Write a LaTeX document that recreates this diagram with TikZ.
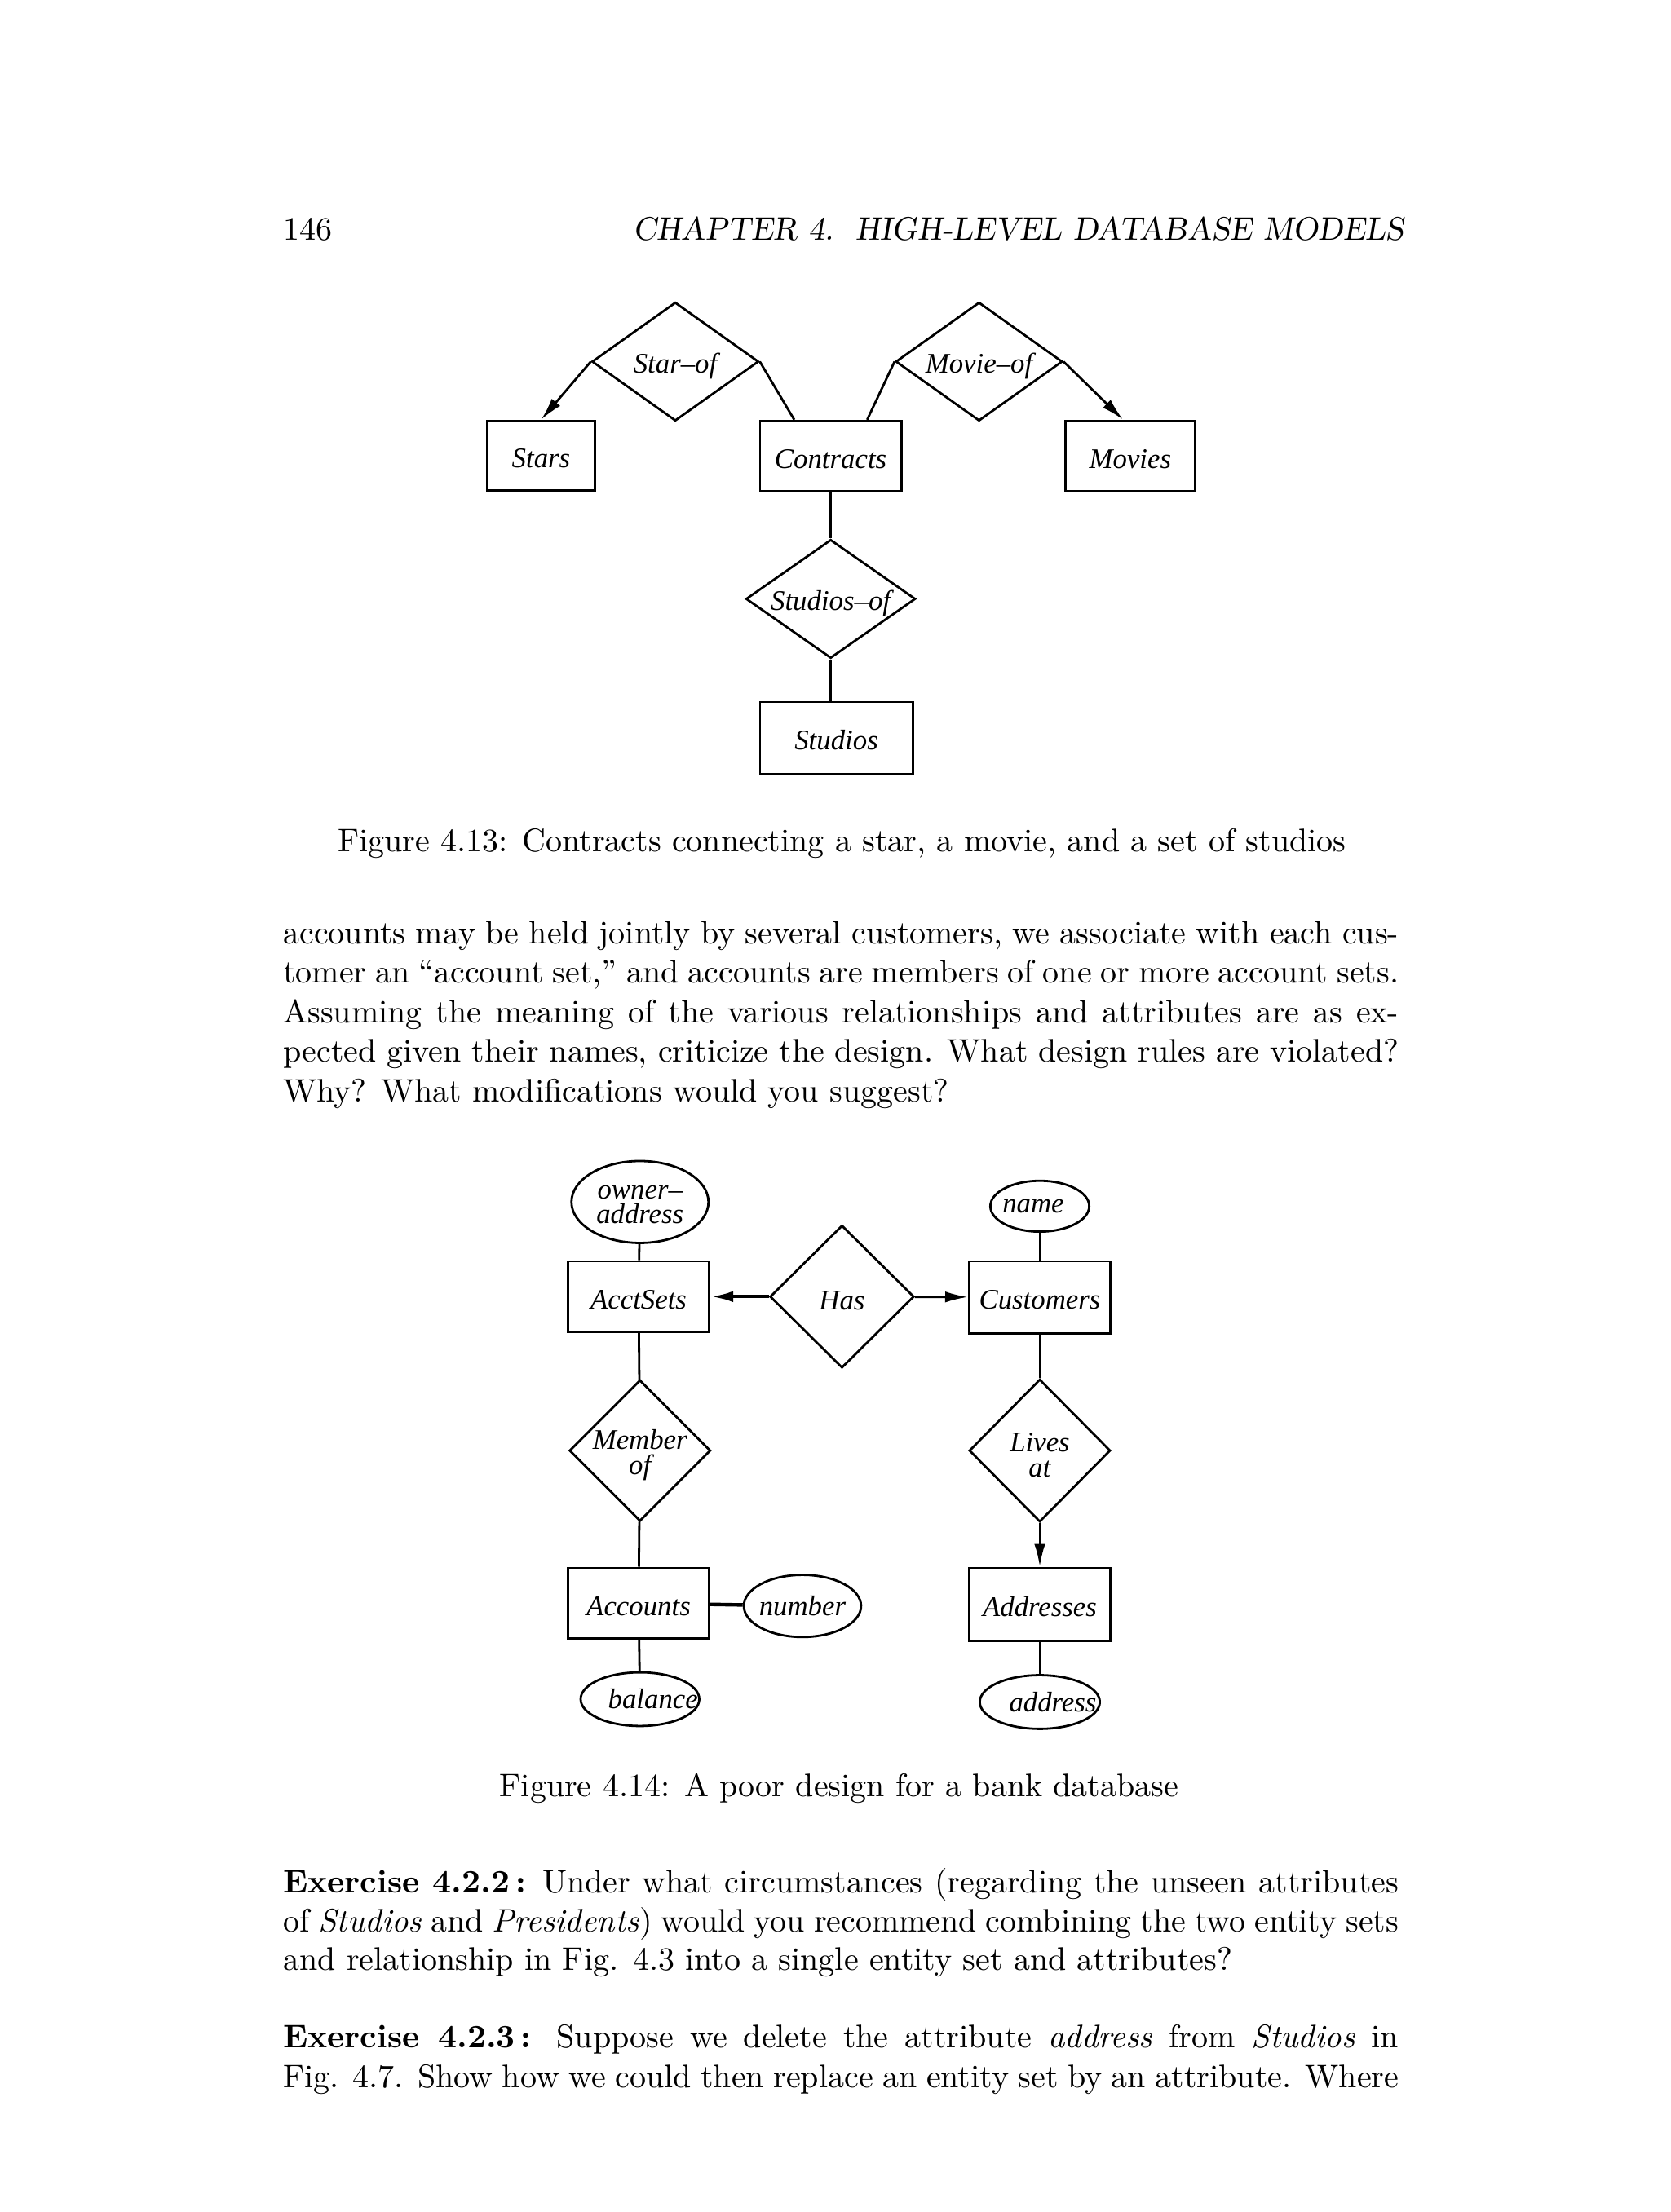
\documentclass[tikz,border=0pt]{standalone}
\usepackage{fontspec}
\usetikzlibrary{shapes.geometric,arrows.meta}
\newfontfamily\erfont{Liberation Serif}
\newcommand{\px}{0.4331pt}
\newcommand{\ersize}{\fontsize{8.7}{7.7}\selectfont}
\begin{document}
\begin{tikzpicture}[x=\px, y=-\px,
  ent/.style={draw, rectangle, inner sep=0pt, line width=0.7pt, text height=7.4pt, text depth=0pt, font=\erfont\itshape\ersize},
  rel/.style={draw, diamond, inner sep=0pt, line width=0.7pt},
  attr/.style={draw, ellipse, inner sep=0pt, line width=0.7pt},
  dims/.style 2 args={minimum width=#1*\px, minimum height=#2*\px},
  every label/.style={font=\erfont\itshape\ersize, align=center, inner sep=0pt},
  rlabel/.style={yshift=-1.3pt},
  link/.style={line width=0.7pt},
  arr/.style={line width=0.7pt, -{Latex[length=7pt,width=3.4pt]}},
  txt/.style={anchor=base west, inner sep=0pt},
  capline/.style={anchor=base, inner sep=0pt}]
\useasboundingbox (0,0) rectangle (1182.3,1566.1);

\node[txt] (header) at (200,170) {\makebox[344pt]{146\hfill\textsl{CHAPTER 4.\ \ HIGH-LEVEL DATABASE MODELS}}};

% Figure 4.13
\node[rel, dims={118}{84}, label={[rlabel]center:Star–of}] (starof) at (478,256) {};
\node[rel, dims={118}{84}, label={[rlabel]center:Movie–of}] (movieof) at (693,256) {};
\node[rel, dims={120}{84}, label={[rlabel]center:Studios–of}] (studiosof) at (588,424) {};
\node[ent, dims={76}{49}] (stars) at (383,322.5) {Stars};
\node[ent, dims={100}{50}] (contracts) at (588,323) {Contracts};
\node[ent, dims={92}{50}] (movies) at (800,323) {Movies};
\node[ent, dims={108}{51}] (studios) at (592,522.5) {Studios};

\draw[arr] (starof.west) -- (stars.north);
\draw[link] (starof.east) -- (contracts.135);
\draw[link] (contracts.45) -- (movieof.west);
\draw[arr] (movieof.east) -- (movies.101);
\draw[link] (contracts) -- (studiosof);
\draw[link] (studiosof.south) -- (studiosof.south |- studios.north);

\node[capline] (cap13) at (596,603) {Figure 4.13: Contracts connecting a star, a movie, and a set of studios};

\node[txt] (par1) at (200,668) {\makebox[342pt][s]{accounts may be held jointly by several customers, we associate with each cus-}};
\node[txt] (par2) at (200,696) {\makebox[342pt][s]{tomer an “account set,” and accounts are members of one or more account sets.}};
\node[txt] (par3) at (200,724) {\makebox[342pt][s]{Assuming the meaning of the various relationships and attributes are as ex-}};
\node[txt] (par4) at (200,752) {\makebox[342pt][s]{pected given their names, criticize the design. What design rules are violated?}};
\node[txt] (par5) at (200,780) {Why? What modifications would you suggest?};

% Figure 4.14
\node[attr, dims={97}{58}, label={[yshift=-0.8pt]center:owner–\\address}] (owneraddr) at (453,851) {};
\node[attr, dims={70}{36}, label={[xshift=-2pt]center:name}] (name) at (736,854) {};
\node[ent, dims={100}{50}] (acctsets) at (452,918) {AcctSets};
\node[rel, dims={102}{101}, label={[rlabel]center:Has}] (has) at (596,918) {};
\node[ent, dims={100}{51}] (customers) at (736,918.5) {Customers};
\node[rel, dims={100}{100}, label={[rlabel]center:Member\\of}] (memberof) at (453,1027) {};
\node[rel, dims={100}{101}, label={[rlabel]center:Lives\\at}] (livesat) at (736,1027) {};
\node[ent, dims={100}{50}] (accounts) at (452,1135) {Accounts};
\node[attr, dims={83}{44}, label={center:number}] (number) at (568,1137) {};
\node[ent, dims={100}{52}] (addresses) at (736,1136) {Addresses};
\node[attr, dims={84}{38}, label={[xshift=4pt]center:balance}] (balance) at (453,1203) {};
\node[attr, dims={85}{38}, label={[xshift=4pt]center:address}] (address) at (736,1205) {};

\draw[link] (owneraddr) -- (acctsets);
\draw[link] (name) -- (customers);
\draw[arr, line width=1.1pt] (has) -- (acctsets);
\draw[arr] (has) -- (customers);
\draw[link] (acctsets) -- (memberof);
\draw[link] (memberof) -- (accounts);
\draw[link, line width=1.1pt] (accounts) -- (number);
\draw[link] (accounts) -- (balance);
\draw[link] (customers) -- (livesat);
\draw[arr] (livesat) -- (addresses);
\draw[link] (addresses) -- (address);

\node[capline] (cap14) at (594,1272) {Figure 4.14: A poor design for a bank database};

\node[txt] (ex2a) at (200,1340) {\makebox[342pt][s]{\textbf{Exercise 4.2.2\,:} Under what circumstances (regarding the unseen attributes}};
\node[txt] (ex2b) at (200,1368) {\makebox[342pt][s]{of \textit{Studios} and \textit{Presidents}) would you recommend combining the two entity sets}};
\node[txt] (ex2c) at (200,1395) {and relationship in Fig. 4.3 into a single entity set and attributes?};
\node[txt] (ex3a) at (200,1450) {\makebox[342pt][s]{\textbf{Exercise 4.2.3\,:} Suppose we delete the attribute \textit{address} from \textit{Studios} in}};
\node[txt] (ex3b) at (200,1478) {\makebox[342pt][s]{Fig. 4.7. Show how we could then replace an entity set by an attribute. Where}};
\end{tikzpicture}
\end{document}
